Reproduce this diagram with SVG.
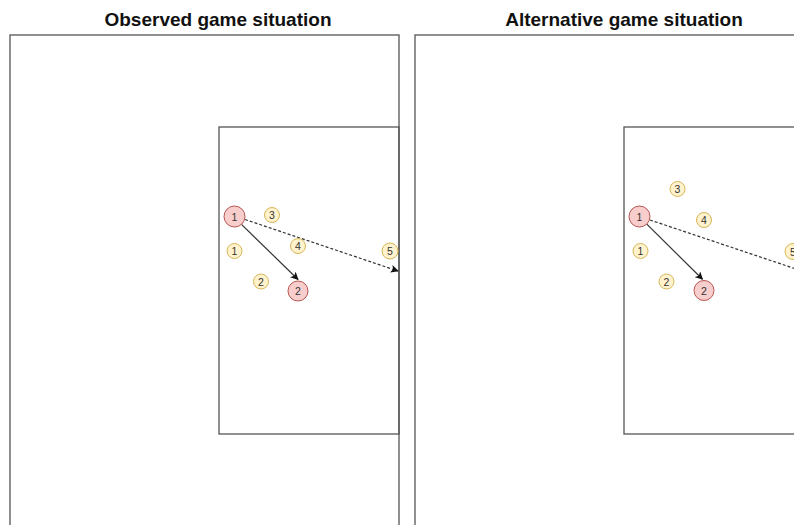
<svg xmlns="http://www.w3.org/2000/svg" width="794" height="525" viewBox="0 0 794 525">
<style>
.title{font-family:"Liberation Sans",Arial,sans-serif;font-weight:bold;font-size:19px;fill:#111;text-anchor:middle}
.field{fill:none;stroke:#555;stroke-width:1.3}
.y{fill:#fff2cc;stroke:#d6b656;stroke-width:1}
.r{fill:#f8cecc;stroke:#b85450;stroke-width:1}
.lbl{font-family:"Liberation Sans",Arial,sans-serif;font-size:10.5px;fill:#333;text-anchor:middle;dominant-baseline:central}
.pass{fill:none;stroke:#333;stroke-width:1.2}
.dash{stroke-dasharray:3 2}
</style>
<defs>
<marker id="ah" viewBox="0 0 10 10" refX="9" refY="5" markerWidth="8" markerHeight="8" markerUnits="userSpaceOnUse" orient="auto">
<path d="M0,0 L10,5 L0,10 L2.5,5 Z" fill="#111"/>
</marker>
</defs>
<rect width="794" height="525" fill="#fff"/>
<text class="title" x="218" y="26">Observed game situation</text>
<text class="title" x="624" y="26">Alternative game situation</text>
<g id="field-observed">
<rect class="field" x="10" y="35" width="389" height="500"/>
<rect class="field" x="219" y="127" width="180" height="307"/>
</g>
<g id="field-alternative">
<rect class="field" x="415" y="35" width="400" height="500"/>
<rect class="field" x="624" y="127" width="200" height="307"/>
</g>
<g id="connectors">
<line class="pass" x1="241.5" y1="224.4" x2="298" y2="279.5" marker-end="url(#ah)"/>
<line class="pass dash" x1="245" y1="219.5" x2="398" y2="271" marker-end="url(#ah)"/>
<line class="pass" x1="646.8" y1="224.1" x2="702.5" y2="279.3" marker-end="url(#ah)"/>
<line class="pass dash" x1="650" y1="220" x2="805" y2="272"/>
</g>
<g id="obs-r1"><circle class="r" cx="234.5" cy="216.5" r="10.5"/><text class="lbl" x="234.5" y="216.5">1</text></g>
<g id="obs-r2"><circle class="r" cx="298" cy="291" r="10"/><text class="lbl" x="298" y="291">2</text></g>
<g id="obs-y3"><circle class="y" cx="272" cy="215" r="7.5"/><text class="lbl" x="272" y="215">3</text></g>
<g id="obs-y4"><circle class="y" cx="298" cy="246" r="7.5"/><text class="lbl" x="298" y="246">4</text></g>
<g id="obs-y1"><circle class="y" cx="234.5" cy="251" r="7.5"/><text class="lbl" x="234.5" y="251">1</text></g>
<g id="obs-y2"><circle class="y" cx="261" cy="281.5" r="7.5"/><text class="lbl" x="261" y="281.5">2</text></g>
<g id="obs-y5"><circle class="y" cx="390" cy="251" r="8"/><text class="lbl" x="390" y="251">5</text></g>
<g id="alt-r1"><circle class="r" cx="639.5" cy="216.5" r="10.5"/><text class="lbl" x="639.5" y="216.5">1</text></g>
<g id="alt-r2"><circle class="r" cx="704" cy="290.5" r="10"/><text class="lbl" x="704" y="290.5">2</text></g>
<g id="alt-y3"><circle class="y" cx="677.5" cy="189" r="7.5"/><text class="lbl" x="677.5" y="189">3</text></g>
<g id="alt-y4"><circle class="y" cx="704" cy="220" r="7.5"/><text class="lbl" x="704" y="220">4</text></g>
<g id="alt-y1"><circle class="y" cx="640.5" cy="251" r="7.5"/><text class="lbl" x="640.5" y="251">1</text></g>
<g id="alt-y2"><circle class="y" cx="666.5" cy="281.5" r="7.5"/><text class="lbl" x="666.5" y="281.5">2</text></g>
<g id="alt-y5"><circle class="y" cx="793" cy="251.5" r="8"/><text class="lbl" x="793" y="251.5">5</text></g>
</svg>
